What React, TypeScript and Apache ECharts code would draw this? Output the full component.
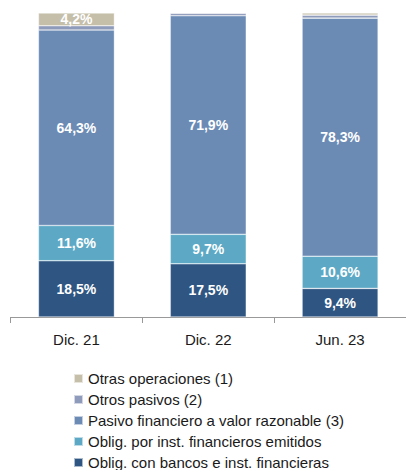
import React, { useEffect, useRef } from "react";
import * as echarts from "echarts";

const categories = ["Dic. 21", "Dic. 22", "Jun. 23"];
const seriesNames = [
  "Oblig. con bancos e inst. financieras",
  "Oblig. por inst. financieros emitidos",
  "Pasivo financiero a valor razonable (3)",
  "Otros pasivos (2)",
  "Otras operaciones (1)",
];
const obligBancos = [18.5, 17.5, 9.4];
const obligEmitidos = [11.6, 9.7, 10.6];
const pasivoFinanciero = [64.3, 71.9, 78.3];
const otrosPasivos = [1.4, 0.8, 1.0];
const otrasOperaciones = [4.2, 0.1, 0.7];
const colors = ["#2F5682", "#5DA9C5", "#6B8BB5", "#8E9BBA", "#C5BEA9"];
const legendOrder = [
  "Otras operaciones (1)",
  "Otros pasivos (2)",
  "Pasivo financiero a valor razonable (3)",
  "Oblig. por inst. financieros emitidos",
  "Oblig. con bancos e inst. financieras",
];

const FONT = "'Liberation Sans Narrow', 'Arial Narrow', 'Liberation Sans', Arial, sans-serif";

export default function App() {
  const ref = useRef<HTMLDivElement>(null);
  useEffect(() => {
    const chart = echarts.init(ref.current!, undefined, { renderer: "svg" });
    const data = [obligBancos, obligEmitidos, pasivoFinanciero, otrosPasivos, otrasOperaciones];
    chart.setOption({
      animation: false,
      grid: { left: 10.5, right: -4, top: 13, bottom: 153, containLabel: false },
      legend: {
        data: legendOrder,
        orient: "vertical",
        left: 68,
        top: 366,
        height: 110,
        itemWidth: 9,
        itemHeight: 9,
        itemGap: 6,
        icon: "rect",
        textStyle: { fontFamily: FONT, fontSize: 15, lineHeight: 14, color: "#1a1a1a" },
      },
      xAxis: {
        type: "category",
        data: categories,
        axisLine: { lineStyle: { color: "#999999", width: 1 } },
        axisTick: { show: true, length: 6, lineStyle: { color: "#999999" } },
        axisLabel: { fontFamily: FONT, fontSize: 15, color: "#1a1a1a", margin: 15 },
      },
      yAxis: { type: "value", min: 0, max: 100, show: false, splitLine: { show: false } },
      series: seriesNames.map((name, i) => ({
        name,
        type: "bar",
        stack: "total",
        barWidth: 76,
        data: data[i],
        itemStyle: { color: colors[i], borderColor: "rgba(255,255,255,0.6)", borderWidth: 0.6 },
        label: {
          show: true,
          position: "inside",
          color: "#ffffff",
          fontWeight: "bold",
          fontFamily: FONT,
          fontSize: 14,
          formatter: (p: any) => (p.value >= 3 ? p.value.toFixed(1).replace(".", ",") + "%" : ""),
        },
      })),
    });
    return () => chart.dispose();
  }, []);
  return <div ref={ref} style={{ width: 406, height: 470, position: "absolute", left: 0, top: 0 }} />;
}
